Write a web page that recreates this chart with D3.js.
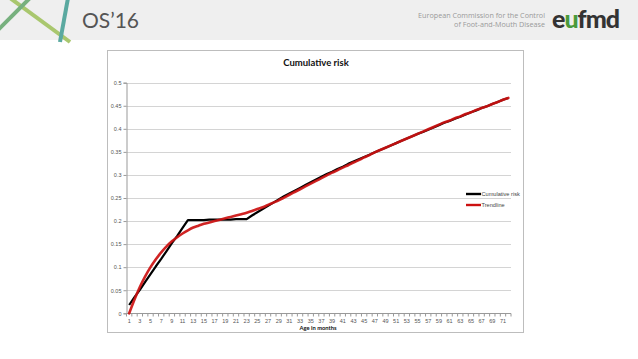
<!DOCTYPE html>
<html>
<head>
<meta charset="utf-8">
<script src="https://cdn.jsdelivr.net/npm/d3@7"></script>
<style>
  body { margin: 0; background: #fff; }
  svg { display: block; }
</style>
</head>
<body>
<svg id="slide" width="638" height="359"></svg>
<script>
// months on the category axis
const months = d3.range(1, 73)

// cumulative risk (black)
const riskValues = [
  0.018, 0.035, 0.051, 0.068, 0.085, 0.102, 0.118, 0.135, 0.152, 0.168, 0.185, 0.202,
  0.202, 0.202, 0.202, 0.203, 0.203, 0.203, 0.203, 0.203, 0.204, 0.204, 0.204,
  0.212, 0.219, 0.226, 0.233, 0.240, 0.247, 0.254, 0.260, 0.266, 0.272, 0.278, 0.284,
  0.290, 0.296, 0.302, 0.307, 0.313, 0.318, 0.324, 0.329, 0.334, 0.339, 0.344, 0.349,
  0.354, 0.359, 0.364, 0.369, 0.374, 0.379, 0.384, 0.389, 0.393, 0.398, 0.403, 0.408,
  0.413, 0.417, 0.422, 0.426, 0.431, 0.436, 0.440, 0.445, 0.449, 0.454, 0.458, 0.463, 0.467
]

// trendline (red)
const trendValues = [
  0.000, 0.030, 0.057, 0.080, 0.100, 0.117, 0.132, 0.145, 0.156, 0.165, 0.173, 0.180,
  0.186, 0.190, 0.194, 0.197, 0.200, 0.203, 0.206, 0.209, 0.212, 0.215, 0.218,
  0.222, 0.226, 0.230, 0.235, 0.240, 0.245, 0.251, 0.257, 0.263, 0.269, 0.275, 0.281,
  0.287, 0.293, 0.299, 0.305, 0.310, 0.316, 0.321, 0.327, 0.332, 0.338, 0.343, 0.349,
  0.354, 0.359, 0.364, 0.369, 0.374, 0.379, 0.384, 0.389, 0.394, 0.399, 0.404, 0.409,
  0.414, 0.418, 0.423, 0.427, 0.432, 0.436, 0.441, 0.445, 0.449, 0.454, 0.458, 0.463, 0.467
]

const yTicks = [0, 0.05, 0.1, 0.15, 0.2, 0.25, 0.3, 0.35, 0.4, 0.45, 0.5]
const yTickLabels = ["0", "0.05", "0.1", "0.15", "0.2", "0.25", "0.3", "0.35", "0.4", "0.45", "0.5"]

const seriesNames = ["Cumulative risk", "Trendline"]
const seriesColors = ["#000000", "#cc1111"]

let svg = d3.select("#slide")

// ---- header band ----
let head = svg.append("g")
head.append("rect").attr("x", 0).attr("y", 0).attr("width", 638).attr("height", 40).attr("fill", "#efefef")
head.append("line").attr("x1", 10).attr("y1", -2).attr("x2", 70).attr("y2", 42)
  .attr("stroke", "#a9c76e").attr("stroke-width", 4)
head.append("line").attr("x1", 30).attr("y1", -2).attr("x2", -2).attr("y2", 30)
  .attr("stroke", "#77b07e").attr("stroke-width", 4)
head.append("line").attr("x1", 68).attr("y1", -2).attr("x2", 60).attr("y2", 42)
  .attr("stroke", "#5aa9a0").attr("stroke-width", 4)
head.append("text").attr("x", 82).attr("y", 28).text("OS\u201916")
  .attr("font-family", "Lato").attr("font-size", 21).attr("fill", "#555")
head.append("text").attr("x", 545).attr("y", 18).attr("text-anchor", "end")
  .attr("font-family", "Open Sans").attr("font-size", 7.2).attr("fill", "#9a9a9a")
  .text("European Commission for the Control")
head.append("text").attr("x", 545).attr("y", 27).attr("text-anchor", "end")
  .attr("font-family", "Open Sans").attr("font-size", 7.2).attr("fill", "#9a9a9a")
  .text("of Foot-and-Mouth Disease")
let logo = head.append("text").attr("x", 552).attr("y", 28)
  .attr("font-family", "Lato").attr("font-weight", 900).attr("font-size", 25).attr("fill", "#333")
  .attr("letter-spacing", -1)
logo.append("tspan").text("e")
logo.append("tspan").attr("fill", "#4a9a3c").text("u")
logo.append("tspan").text("fmd")

// ---- chart frame ----
svg.append("rect").attr("x", 107.5).attr("y", 50.5).attr("width", 416).attr("height", 282)
  .attr("fill", "#fff").attr("stroke", "#bdbdbd")

svg.append("text").attr("x", 316).attr("y", 66).attr("text-anchor", "middle")
  .attr("font-family", "Lato").attr("font-weight", 700).attr("font-size", 9.5).attr("fill", "#111")
  .text("Cumulative risk")

let x = d3.scaleBand().domain(months).range([126.5, 511])
let y = d3.scaleLinear().domain([0, 0.5]).range([313.3, 82.7])
let xc = d => x(d) + x.bandwidth() / 2

// gridlines
svg.append("g").selectAll("line").data(yTicks.slice(1)).join("line")
  .attr("x1", 126.5).attr("x2", 511)
  .attr("y1", d => Math.round(y(d)) + 0.5).attr("y2", d => Math.round(y(d)) + 0.5)
  .attr("stroke", "#d4d4d4").attr("stroke-width", 1)

// y axis
let yAxis = d3.axisLeft(y).tickValues(yTicks).tickSize(3).tickFormat((d, i) => yTickLabels[i])
let gy = svg.append("g").attr("transform", "translate(126.5,0)").call(yAxis)
gy.select(".domain").attr("stroke", "#999")
gy.selectAll(".tick line").attr("stroke", "#999")
gy.selectAll("text").attr("font-family", "Liberation Sans").attr("font-size", 5.5).attr("fill", "#555").attr("x", -5)

// x axis: ticks between categories, labels every other month
let gx = svg.append("g").attr("transform", "translate(0,313.5)")
gx.append("line").attr("x1", 126.5).attr("x2", 511).attr("stroke", "#999")
gx.selectAll("line.tk").data(months.concat([73])).join("line").attr("class", "tk")
  .attr("x1", d => d === 73 ? 511 : x(d)).attr("x2", d => d === 73 ? 511 : x(d))
  .attr("y1", 0).attr("y2", 3).attr("stroke", "#999")
gx.selectAll("text").data(months.filter(d => d % 2 === 1)).join("text")
  .attr("x", d => xc(d)).attr("y", 9.5).attr("text-anchor", "middle")
  .attr("font-family", "Liberation Sans").attr("font-size", 5.5).attr("fill", "#555")
  .text(d => d)

svg.append("text").attr("x", 318).attr("y", 330).attr("text-anchor", "middle")
  .attr("font-family", "Lato").attr("font-weight", 700).attr("font-size", 5.8).attr("fill", "#111")
  .text("Age in months")

// ---- series ----
let line = d3.line().x((d, i) => xc(months[i])).y(d => y(d))
svg.append("path").datum(riskValues).attr("d", line)
  .attr("fill", "none").attr("stroke", seriesColors[0]).attr("stroke-width", 2.2)
  .attr("stroke-linejoin", "round")
svg.append("path").datum(trendValues).attr("d", line.curve(d3.curveMonotoneX))
  .attr("fill", "none").attr("stroke", seriesColors[1]).attr("stroke-width", 2.6)
  .attr("stroke-linecap", "round").attr("opacity", 0.92)

// ---- legend ----
let legend = svg.append("g").selectAll("g").data(seriesNames).join("g")
  .attr("transform", (d, i) => `translate(466,${194 + i * 11})`)
legend.append("line").attr("x1", 0).attr("x2", 15).attr("stroke", (d, i) => seriesColors[i]).attr("stroke-width", 2.4)
legend.append("text").attr("x", 15.5).attr("y", 2).text(d => d)
  .attr("font-family", "Liberation Sans").attr("font-size", 5.6).attr("fill", "#444")
</script>
</body>
</html>
